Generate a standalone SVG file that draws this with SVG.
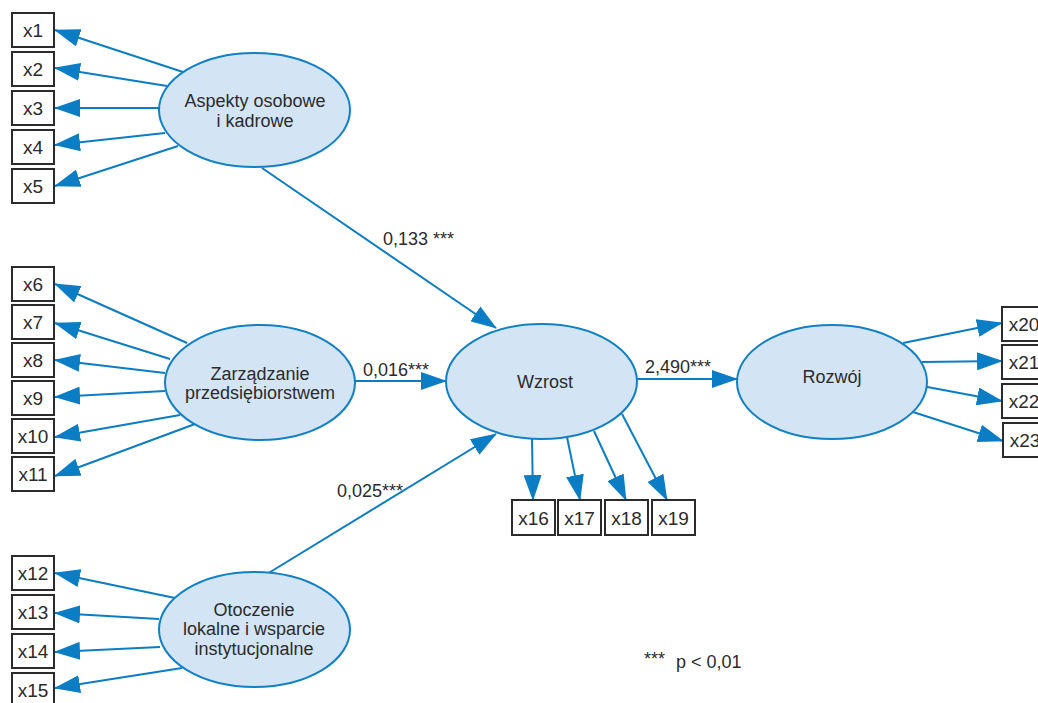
<svg xmlns="http://www.w3.org/2000/svg" width="1038" height="703" viewBox="0 0 1038 703">
<style>
.box{fill:#fff;stroke:#2b2b2b;stroke-width:2}
.bt{font-family:"Liberation Sans",Arial,sans-serif;font-size:19px;fill:#2b2b2b;text-anchor:middle}
.ell{fill:#d3e4f5;stroke:#1280c4;stroke-width:2}
.et{font-family:"Liberation Sans",Arial,sans-serif;font-size:18px;fill:#2b2b2b;text-anchor:middle}
.lbl{font-family:"Liberation Sans",Arial,sans-serif;font-size:18px;fill:#2b2b2b}
.c{stroke:#0b7dc4;stroke-width:2;fill:none;marker-end:url(#ah)}
</style>
<defs>
<marker id="ah" viewBox="0 0 26 18" refX="25" refY="9" markerWidth="26" markerHeight="18" markerUnits="userSpaceOnUse" orient="auto">
<path d="M0,0 L26,9 L0,18 Z" fill="#0b7dc4"/>
</marker>
</defs>
<rect width="1038" height="703" fill="#fff"/>
<g id="connectors">
<line class="c" x1="183" y1="72" x2="55" y2="30"/>
<line class="c" x1="167" y1="86" x2="55" y2="68"/>
<line class="c" x1="159" y1="108" x2="55" y2="108"/>
<line class="c" x1="165" y1="133" x2="55" y2="145"/>
<line class="c" x1="178" y1="146" x2="55" y2="186"/>
<line class="c" x1="187" y1="343" x2="55" y2="284"/>
<line class="c" x1="170" y1="359" x2="55" y2="323"/>
<line class="c" x1="165" y1="373" x2="55" y2="360"/>
<line class="c" x1="165" y1="391" x2="55" y2="397"/>
<line class="c" x1="180" y1="415" x2="55" y2="437"/>
<line class="c" x1="195" y1="424" x2="55" y2="476"/>
<line class="c" x1="175" y1="598" x2="55" y2="573"/>
<line class="c" x1="159" y1="619" x2="55" y2="613"/>
<line class="c" x1="160" y1="647" x2="55" y2="652"/>
<line class="c" x1="182" y1="668" x2="55" y2="688"/>
<line class="c" x1="262" y1="168" x2="496" y2="328"/>
<line class="c" x1="355" y1="381" x2="446" y2="381"/>
<line class="c" x1="267" y1="574" x2="496" y2="434"/>
<line class="c" x1="637" y1="379" x2="737" y2="379"/>
<line class="c" x1="532" y1="439" x2="533" y2="500"/>
<line class="c" x1="567" y1="437" x2="580" y2="500"/>
<line class="c" x1="594" y1="431" x2="626" y2="500"/>
<line class="c" x1="622" y1="414" x2="667" y2="500"/>
<line class="c" x1="903" y1="343" x2="1002" y2="323"/>
<line class="c" x1="922" y1="362" x2="1002" y2="361"/>
<line class="c" x1="922" y1="386" x2="1002" y2="401"/>
<line class="c" x1="913" y1="412" x2="1003" y2="441"/>
</g>
<g id="n_x1"><rect class="box" x="12" y="13" width="42" height="34"/><text class="bt" x="33" y="37">x1</text></g>
<g id="n_x2"><rect class="box" x="12" y="52" width="42" height="34"/><text class="bt" x="33" y="76">x2</text></g>
<g id="n_x3"><rect class="box" x="12" y="91" width="42" height="34"/><text class="bt" x="33" y="115">x3</text></g>
<g id="n_x4"><rect class="box" x="12" y="130" width="42" height="34"/><text class="bt" x="33" y="154">x4</text></g>
<g id="n_x5"><rect class="box" x="12" y="169" width="42" height="34"/><text class="bt" x="33" y="193">x5</text></g>
<g id="n_x6"><rect class="box" x="12" y="267" width="42" height="34"/><text class="bt" x="33" y="291">x6</text></g>
<g id="n_x7"><rect class="box" x="12" y="305" width="42" height="34"/><text class="bt" x="33" y="329">x7</text></g>
<g id="n_x8"><rect class="box" x="12" y="343" width="42" height="34"/><text class="bt" x="33" y="367">x8</text></g>
<g id="n_x9"><rect class="box" x="12" y="381" width="42" height="34"/><text class="bt" x="33" y="405">x9</text></g>
<g id="n_x10"><rect class="box" x="12" y="419" width="42" height="34"/><text class="bt" x="33" y="443">x10</text></g>
<g id="n_x11"><rect class="box" x="12" y="457" width="42" height="34"/><text class="bt" x="33" y="481">x11</text></g>
<g id="n_x12"><rect class="box" x="12" y="556" width="42" height="34"/><text class="bt" x="33" y="580">x12</text></g>
<g id="n_x13"><rect class="box" x="12" y="595" width="42" height="34"/><text class="bt" x="33" y="619">x13</text></g>
<g id="n_x14"><rect class="box" x="12" y="634" width="42" height="34"/><text class="bt" x="33" y="658">x14</text></g>
<g id="n_x15"><rect class="box" x="12" y="673" width="42" height="34"/><text class="bt" x="33" y="697">x15</text></g>
<g id="n_x16"><rect class="box" x="512" y="500" width="43" height="35"/><text class="bt" x="533.5" y="525">x16</text></g>
<g id="n_x17"><rect class="box" x="558" y="500" width="43" height="35"/><text class="bt" x="579.5" y="525">x17</text></g>
<g id="n_x18"><rect class="box" x="605" y="500" width="43" height="35"/><text class="bt" x="626.5" y="525">x18</text></g>
<g id="n_x19"><rect class="box" x="652" y="500" width="43" height="35"/><text class="bt" x="673.5" y="525">x19</text></g>
<g id="n_x20"><rect class="box" x="1002" y="307" width="44" height="34"/><text class="bt" x="1024" y="331">x20</text></g>
<g id="n_x21"><rect class="box" x="1002" y="345" width="44" height="34"/><text class="bt" x="1024" y="369">x21</text></g>
<g id="n_x22"><rect class="box" x="1002" y="384" width="44" height="34"/><text class="bt" x="1024" y="408">x22</text></g>
<g id="n_x23"><rect class="box" x="1003" y="423" width="44" height="34"/><text class="bt" x="1025" y="447">x23</text></g>
<g id="n_aspekty"><ellipse class="ell" cx="254.5" cy="110" rx="95.5" ry="57"/><text class="et" x="255" y="107">Aspekty osobowe</text><text class="et" x="255" y="127">i kadrowe</text></g>
<g id="n_zarzadzanie"><ellipse class="ell" cx="260" cy="382.5" rx="95" ry="57.5"/><text class="et" x="260" y="380">Zarządzanie</text><text class="et" x="260" y="399">przedsiębiorstwem</text></g>
<g id="n_otoczenie"><ellipse class="ell" cx="254.5" cy="629.5" rx="95.5" ry="57.5"/><text class="et" x="254" y="616">Otoczenie</text><text class="et" x="254" y="635">lokalne i wsparcie</text><text class="et" x="254" y="655">instytucjonalne</text></g>
<g id="n_wzrost"><ellipse class="ell" cx="541.5" cy="381.5" rx="95.5" ry="57.5"/><text class="et" x="545" y="388">Wzrost</text></g>
<g id="n_rozwoj"><ellipse class="ell" cx="832" cy="382" rx="95" ry="57"/><text class="et" x="832" y="383">Rozwój</text></g>
<g id="labels">
<text class="lbl" x="383" y="245">0,133 ***</text>
<text class="lbl" x="363" y="376">0,016***</text>
<text class="lbl" x="337" y="497">0,025***</text>
<text class="lbl" x="645" y="373">2,490***</text>
<text class="lbl" x="644" y="665">***</text>
<text class="lbl" x="676" y="668">p &lt; 0,01</text>
</g>
</svg>
